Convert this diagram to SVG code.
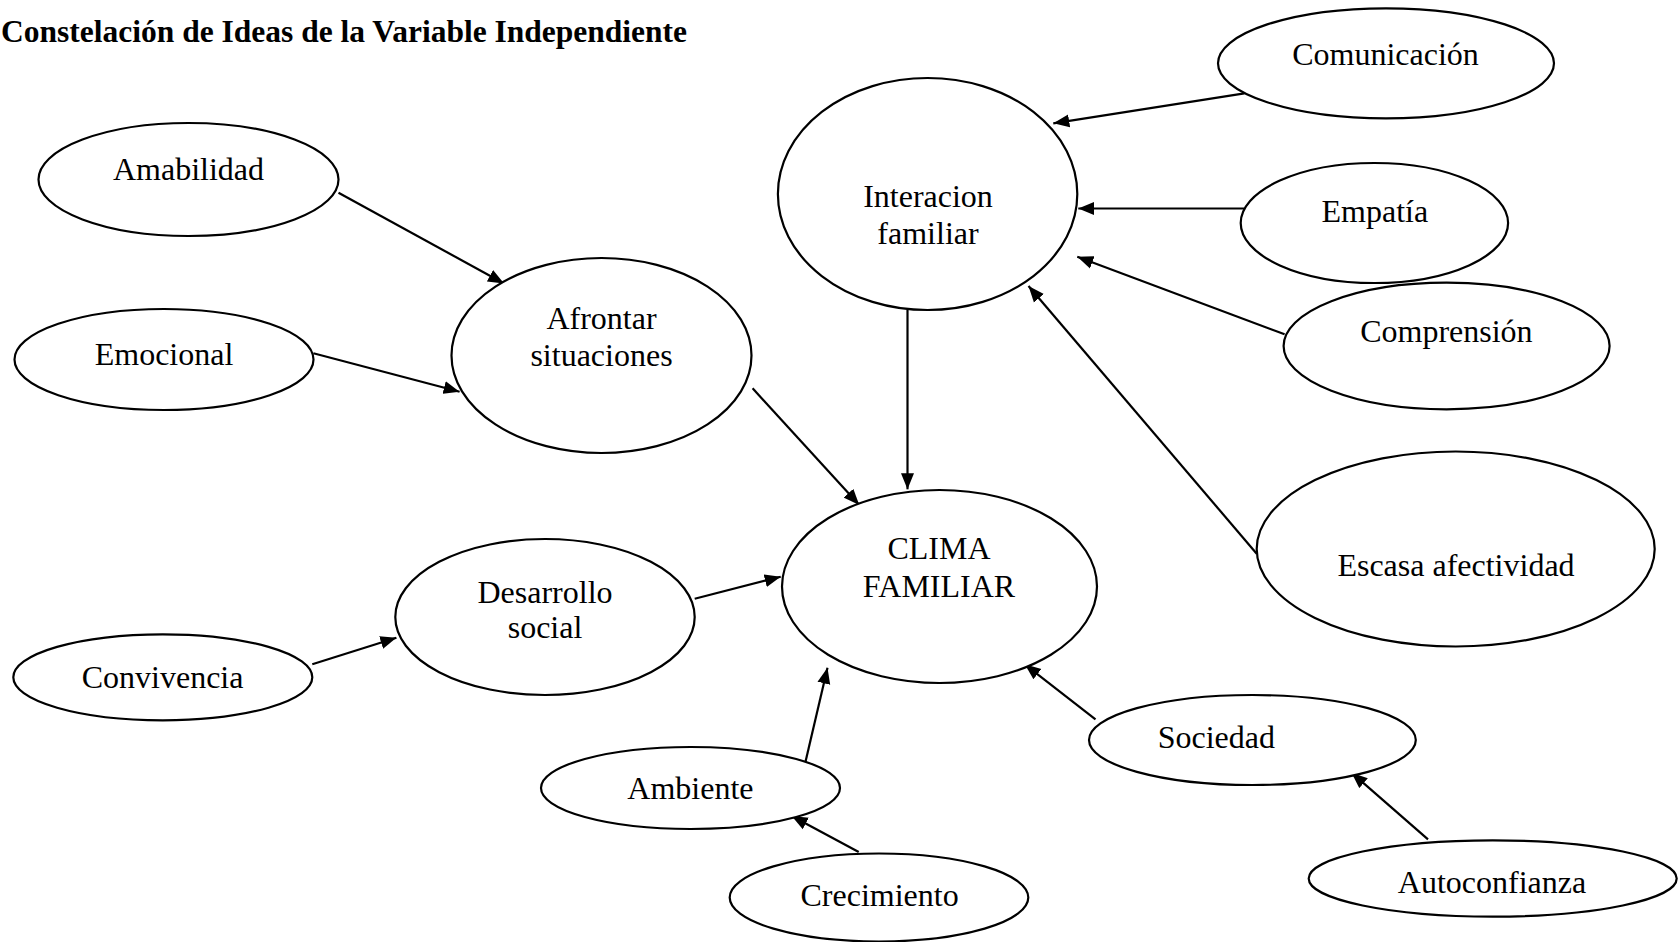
<svg xmlns="http://www.w3.org/2000/svg" width="1680" height="942" viewBox="0 0 1680 942">
<defs>
<style>
.n ellipse{fill:#fff;stroke:#000;stroke-width:2.2}
.n text,.t{font-family:"Liberation Serif","Times New Roman",serif;font-size:32px;fill:#000;text-anchor:middle}
.t{font-weight:bold;text-anchor:start;font-size:31.5px}
#connectors line{stroke:#000;stroke-width:2.2;marker-end:url(#ah)}
</style>
<marker id="ah" markerUnits="userSpaceOnUse" markerWidth="17" markerHeight="14" refX="16" refY="7" orient="auto">
<path d="M0,0.5 L16,7 L0,13.5 z" fill="#000"/>
</marker>
</defs>
<rect width="1680" height="942" fill="#fff"/>
<text class="t" x="1" y="41.5">Constelación de Ideas de la Variable Independiente</text>

<g id="connectors">
<line x1="338.5" y1="192.7" x2="504" y2="283.5"/>
<line x1="313.4" y1="353.3" x2="459.6" y2="391.7"/>
<line x1="752.6" y1="388.3" x2="859.3" y2="505"/>
<line x1="907.5" y1="310" x2="907.5" y2="489.3"/>
<line x1="1244.4" y1="93.3" x2="1053.3" y2="123.3"/>
<line x1="1244.4" y1="208.5" x2="1078.3" y2="208.5"/>
<line x1="1284.6" y1="334.3" x2="1077.3" y2="256.7"/>
<line x1="1256.7" y1="553.7" x2="1028.5" y2="286"/>
<line x1="694.7" y1="598.7" x2="780.7" y2="576.7"/>
<line x1="312.3" y1="664.3" x2="396.4" y2="637.7"/>
<line x1="804.5" y1="766" x2="827.5" y2="667.7"/>
<line x1="858.7" y1="852" x2="791.7" y2="816"/>
<line x1="1095.5" y1="719.3" x2="1024.8" y2="664.3"/>
<line x1="1428" y1="839.3" x2="1351.5" y2="772.7"/>
</g>

<g id="amabilidad" class="n"><ellipse cx="188.5" cy="179.5" rx="150" ry="56.5"/><text x="188.5" y="180">Amabilidad</text></g>
<g id="emocional" class="n"><ellipse cx="164" cy="359.5" rx="149.5" ry="50.5"/><text x="164" y="365">Emocional</text></g>
<g id="afrontar" class="n"><ellipse cx="601.5" cy="355.5" rx="150" ry="97.5"/><text x="601.5" y="328.5">Afrontar</text><text x="601.5" y="365.5">situaciones</text></g>
<g id="interaccion" class="n"><ellipse cx="927.6" cy="194" rx="149.7" ry="116"/><text x="928" y="207">Interacion</text><text x="928" y="244">familiar</text></g>
<g id="comunicacion" class="n"><ellipse cx="1386" cy="63.3" rx="168" ry="55"/><text x="1385.5" y="65">Comunicación</text></g>
<g id="empatia" class="n"><ellipse cx="1374.4" cy="223" rx="133.7" ry="60"/><text x="1374.8" y="221.7">Empatía</text></g>
<g id="comprension" class="n"><ellipse cx="1446.6" cy="346" rx="163" ry="63.3"/><text x="1446.4" y="341.7">Comprensión</text></g>
<g id="escasa" class="n"><ellipse cx="1455.7" cy="549" rx="199" ry="97.5"/><text x="1456" y="576">Escasa afectividad</text></g>
<g id="clima" class="n"><ellipse cx="939.5" cy="586.5" rx="157.5" ry="96.5"/><text x="939" y="559">CLIMA</text><text x="939" y="596.7">FAMILIAR</text></g>
<g id="desarrollo" class="n"><ellipse cx="545" cy="617" rx="149.7" ry="78"/><text x="545" y="602.7">Desarrollo</text><text x="545" y="637.7">social</text></g>
<g id="convivencia" class="n"><ellipse cx="162.8" cy="677.3" rx="149.5" ry="43"/><text x="162.6" y="687.7">Convivencia</text></g>
<g id="ambiente" class="n"><ellipse cx="690.5" cy="788" rx="149.5" ry="41"/><text x="690.4" y="799.3">Ambiente</text></g>
<g id="crecimiento" class="n"><ellipse cx="879" cy="897.5" rx="149.3" ry="44"/><text x="879.6" y="906">Crecimiento</text></g>
<g id="sociedad" class="n"><ellipse cx="1252.4" cy="740" rx="163.4" ry="45"/><text x="1216.3" y="747.7">Sociedad</text></g>
<g id="autoconfianza" class="n"><ellipse cx="1492.7" cy="878.5" rx="184" ry="38.2"/><text x="1492" y="892.7">Autoconfianza</text></g>
</svg>
